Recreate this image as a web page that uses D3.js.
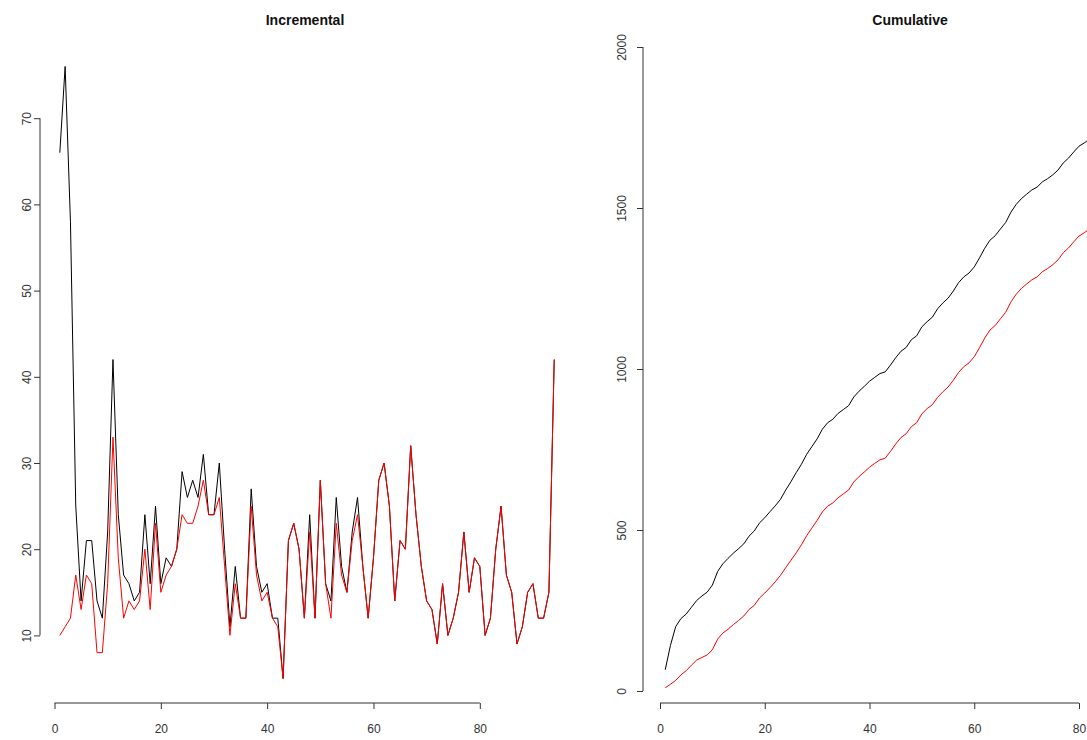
<!DOCTYPE html>
<html>
<head>
<meta charset="utf-8">
<script src="https://cdn.jsdelivr.net/npm/d3@7"></script>
<style>
  html, body { margin: 0; padding: 0; background: #fff; }
  svg { display: block; }
  text { font-family: "Liberation Sans", Arial, sans-serif; }
</style>
</head>
<body>
<svg id="chart" width="1087" height="740"></svg>
<script>
// ---- data ----
const index = d3.range(1, 95); // observation number 1..94
const blackSeries = [66,76,58,25,14,21,21,14,12,22,42,24,17,16,14,15,24,16,25,16,
  19,18,20,29,26,28,26,31,24,24,30,20,11,18,12,12,27,18,15,16,12,12,5,21,23,20,12,24,12,28,
  16,14,26,18,15,22,26,18,12,19,28,30,25,14,21,20,32,24,18,14,13,9,16,10,12,15,22,15,19,18,
  10,12,20,25,17,15,9,11,15,16,12,12,15,42];
const redSeries = [10,11,12,17,13,17,16,8,8,16,33,19,12,14,13,14,20,13,23,15,
  17,18,20,24,23,23,25,28,24,24,26,18,10,16,12,12,25,17,14,15,12,11,5,21,23,20,12,22,12,28,
  16,12,23,17,15,21,24,18,12,19,28,30,25,14,21,20,32,24,18,14,13,9,16,10,12,15,22,15,19,18,
  10,12,20,25,17,15,9,11,15,16,12,12,15,42];
const incYTicks = [10,20,30,40,50,60,70];
const cumYTicks = [0,500,1000,1500,2000];
const xTicks = [0,20,40,60,80];
const titles = ["Incremental", "Cumulative"];

// cumulative series as plotted in the right panel (running totals of the series above)
const blackCum = Array.from(d3.cumsum(blackSeries));
const redCum = Array.from(d3.cumsum(redSeries));

const svg = d3.select("#chart");
const axisColor = "#333";

function drawPanel(cfg) {
  const g = svg.append("g");
  const { x, y, yTicks, title, titleX, yAxisX, xAxisY, series, yLabelOffset } = cfg;

  // title
  g.append("text")
    .attr("x", titleX).attr("y", 25)
    .attr("text-anchor", "middle")
    .attr("font-weight", "bold")
    .attr("font-size", 14)
    .attr("fill", "#111")
    .text(title);

  // y axis
  const ya = g.append("g").attr("transform", `translate(${yAxisX},0)`)
    .call(d3.axisLeft(y).tickValues(yTicks).tickSize(6).tickSizeOuter(0).tickFormat(d3.format("d")));
  ya.select(".domain").remove();
  ya.append("line")
    .attr("x1", 0).attr("x2", 0)
    .attr("y1", y(yTicks[0])).attr("y2", y(yTicks[yTicks.length - 1]))
    .attr("stroke", axisColor);
  ya.selectAll(".tick line").attr("stroke", axisColor);
  ya.selectAll(".tick text")
    .attr("x", null).attr("dy", null)
    .attr("transform", `translate(${-yLabelOffset},0) rotate(-90)`)
    .attr("text-anchor", "middle")
    .attr("font-size", 12)
    .attr("fill", axisColor)
    .attr("font-family", '"Liberation Sans", Arial, sans-serif');

  // x axis
  const xa = g.append("g").attr("transform", `translate(0,${xAxisY})`)
    .call(d3.axisBottom(x).tickValues(xTicks).tickSize(6).tickSizeOuter(0).tickFormat(d3.format("d")));
  xa.select(".domain").remove();
  xa.append("line")
    .attr("y1", 0).attr("y2", 0)
    .attr("x1", x(xTicks[0])).attr("x2", x(xTicks[xTicks.length - 1]))
    .attr("stroke", axisColor);
  xa.selectAll(".tick line").attr("stroke", axisColor);
  xa.selectAll(".tick text")
    .attr("y", 26)
    .attr("dy", "0.32em")
    .attr("font-size", 12)
    .attr("fill", axisColor)
    .attr("font-family", '"Liberation Sans", Arial, sans-serif');

  // lines
  series.forEach(s => {
    const line = d3.line().x((d, i) => x(index[i])).y(d => y(d));
    g.append("path")
      .datum(s.values)
      .attr("fill", "none")
      .attr("stroke", s.color)
      .attr("stroke-width", 1)
      .attr("stroke-linejoin", "round")
      .attr("d", line);
  });
}

// left panel: Incremental
const xL = d3.scaleLinear().domain([0, 80]).range([54.5, 479.8]);
const yL = d3.scaleLinear().domain([10, 70]).range([635.4, 118.2]);
drawPanel({
  x: xL, y: yL, yTicks: incYTicks, title: titles[0], titleX: 305,
  yAxisX: 40, xAxisY: 703, yLabelOffset: 9,
  series: [{ values: blackSeries, color: "#000" }, { values: redSeries, color: "#ff0000" }]
});

// right panel: Cumulative
const xR = d3.scaleLinear().domain([0, 80]).range([660, 1079]);
const yR = d3.scaleLinear().domain([0, 2000]).range([691, 47]);
drawPanel({
  x: xR, y: yR, yTicks: cumYTicks, title: titles[1], titleX: 910,
  yAxisX: 643, xAxisY: 703, yLabelOffset: 17,
  series: [{ values: blackCum, color: "#000" }, { values: redCum, color: "#ff0000" }]
});
</script>
</body>
</html>
